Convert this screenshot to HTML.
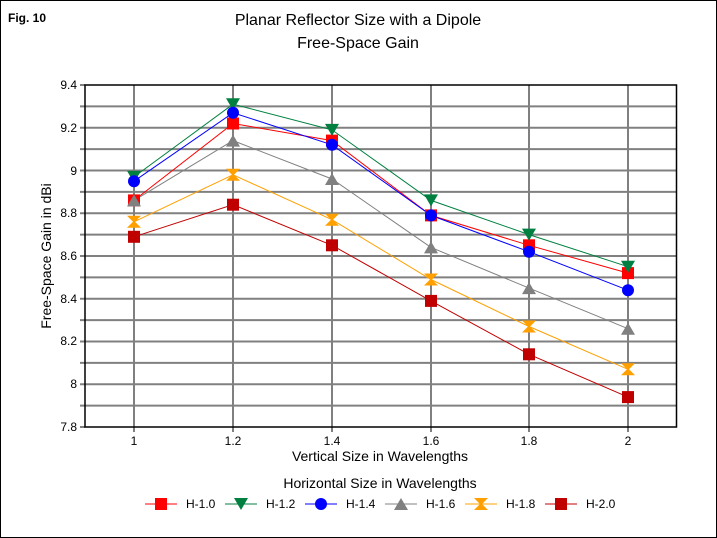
<!DOCTYPE html>
<html><head><meta charset="utf-8"><style>body{margin:0;background:#fff}svg{display:block}text{font-family:"Liberation Sans",Arial,sans-serif}</style></head><body>
<svg width="717" height="538" viewBox="0 0 717 538" xmlns="http://www.w3.org/2000/svg">
<defs>
<rect id="sq" x="-6" y="-6" width="12" height="12"/>
<path id="dn" d="M-7,-6 L7,-6 L0,6 Z"/>
<circle id="ci" r="6"/>
<path id="up" d="M0,-6 L7,6 L-7,6 Z"/>
<path id="hg" d="M-7,-6 L7,-6 L1,0 L7,6 L-7,6 L-1,0 Z"/>
</defs>
<rect x="0.5" y="0.5" width="716" height="537" fill="#fff" stroke="#000"/>
<text x="8" y="22" font-size="12" font-weight="bold">Fig. 10</text>
<text x="358" y="25" font-size="16" text-anchor="middle">Planar Reflector Size with a Dipole</text>
<text x="358" y="48" font-size="16" text-anchor="middle">Free-Space Gain</text>
<g stroke="#808080" stroke-width="2">
<line x1="80" y1="106.4" x2="676" y2="106.4"/><line x1="80" y1="127.75" x2="676" y2="127.75"/><line x1="80" y1="149.1" x2="676" y2="149.1"/><line x1="80" y1="170.5" x2="676" y2="170.5"/><line x1="80" y1="191.9" x2="676" y2="191.9"/><line x1="80" y1="213.25" x2="676" y2="213.25"/><line x1="80" y1="234.6" x2="676" y2="234.6"/><line x1="80" y1="256" x2="676" y2="256"/><line x1="80" y1="277.4" x2="676" y2="277.4"/><line x1="80" y1="298.75" x2="676" y2="298.75"/><line x1="80" y1="320.1" x2="676" y2="320.1"/><line x1="80" y1="341.5" x2="676" y2="341.5"/><line x1="80" y1="362.9" x2="676" y2="362.9"/><line x1="80" y1="384.25" x2="676" y2="384.25"/><line x1="80" y1="405.6" x2="676" y2="405.6"/>
<line x1="80" y1="85" x2="85" y2="85"/><line x1="80" y1="427" x2="85" y2="427"/>
<line x1="134" y1="85" x2="134" y2="432"/><line x1="233" y1="85" x2="233" y2="432"/><line x1="332" y1="85" x2="332" y2="432"/><line x1="431" y1="85" x2="431" y2="432"/><line x1="529" y1="85" x2="529" y2="432"/><line x1="628" y1="85" x2="628" y2="432"/>
</g>
<path d="M85,85 H676.5 V427 H85 Z" fill="none" stroke="#000" stroke-width="1.5"/>
<g font-size="12" text-anchor="end">
<text x="77" y="89">9.4</text><text x="77" y="132">9.2</text><text x="77" y="175">9</text><text x="77" y="217">8.8</text><text x="77" y="260">8.6</text><text x="77" y="303">8.4</text><text x="77" y="345">8.2</text><text x="77" y="388">8</text><text x="77" y="431">7.8</text>
</g>
<g font-size="12" text-anchor="middle">
<text x="134" y="445">1</text><text x="233" y="445">1.2</text><text x="332" y="445">1.4</text><text x="431" y="445">1.6</text><text x="529" y="445">1.8</text><text x="628" y="445">2</text>
</g>
<text x="380" y="461" font-size="14" text-anchor="middle">Vertical Size in Wavelengths</text>
<text transform="translate(51,256) rotate(-90)" font-size="14" text-anchor="middle">Free-Space Gain in dBi</text>
<g fill="none" stroke-width="1">
<polyline stroke="#f00" points="134,200.4 233,123.5 332,140.6 431,215.4 529,245.3 628,273.1"/>
<polyline stroke="#008040" points="134,176.9 233,104.2 332,129.9 431,200.4 529,234.6 628,266.7"/>
<polyline stroke="#00f" points="134,181.2 233,112.8 332,144.8 431,215.4 529,251.7 628,290.2"/>
<polyline stroke="#808080" points="134,200.4 233,140.6 332,179 431,247.4 529,288.1 628,328.7"/>
<polyline stroke="#ffa000" points="134,221.8 233,174.8 332,219.7 431,279.5 529,326.5 628,369.3"/>
<polyline stroke="#c00000" points="134,236.8 233,204.7 332,245.3 431,300.9 529,354.3 628,397.1"/>
</g>
<g fill="#f00"><use href="#sq" x="134" y="200.4"/><use href="#sq" x="233" y="123.5"/><use href="#sq" x="332" y="140.6"/><use href="#sq" x="431" y="215.4"/><use href="#sq" x="529" y="245.3"/><use href="#sq" x="628" y="273.1"/></g>
<g fill="#008040"><use href="#dn" x="134" y="176.9"/><use href="#dn" x="233" y="104.2"/><use href="#dn" x="332" y="129.9"/><use href="#dn" x="431" y="200.4"/><use href="#dn" x="529" y="234.6"/><use href="#dn" x="628" y="266.7"/></g>
<g fill="#00f"><use href="#ci" x="134" y="181.2"/><use href="#ci" x="233" y="112.8"/><use href="#ci" x="332" y="144.8"/><use href="#ci" x="431" y="215.4"/><use href="#ci" x="529" y="251.7"/><use href="#ci" x="628" y="290.2"/></g>
<g fill="#808080"><use href="#up" x="134" y="200.4"/><use href="#up" x="233" y="140.6"/><use href="#up" x="332" y="179"/><use href="#up" x="431" y="247.4"/><use href="#up" x="529" y="288.1"/><use href="#up" x="628" y="328.7"/></g>
<g fill="#ffa000"><use href="#hg" x="134" y="221.8"/><use href="#hg" x="233" y="174.8"/><use href="#hg" x="332" y="219.7"/><use href="#hg" x="431" y="279.5"/><use href="#hg" x="529" y="326.5"/><use href="#hg" x="628" y="369.3"/></g>
<g fill="#c00000"><use href="#sq" x="134" y="236.8"/><use href="#sq" x="233" y="204.7"/><use href="#sq" x="332" y="245.3"/><use href="#sq" x="431" y="300.9"/><use href="#sq" x="529" y="354.3"/><use href="#sq" x="628" y="397.1"/></g>
<text x="380" y="488" font-size="14" text-anchor="middle">Horizontal Size in Wavelengths</text>
<g font-size="12">
<line x1="145" y1="504" x2="177" y2="504" stroke="#f00"/><use href="#sq" x="161" y="504" fill="#f00"/><text x="186" y="508">H-1.0</text>
<line x1="225" y1="504" x2="257" y2="504" stroke="#008040"/><use href="#dn" x="241" y="504" fill="#008040"/><text x="266" y="508">H-1.2</text>
<line x1="305" y1="504" x2="337" y2="504" stroke="#00f"/><use href="#ci" x="321" y="504" fill="#00f"/><text x="346" y="508">H-1.4</text>
<line x1="385" y1="504" x2="417" y2="504" stroke="#808080"/><use href="#up" x="401" y="504" fill="#808080"/><text x="426" y="508">H-1.6</text>
<line x1="465" y1="504" x2="497" y2="504" stroke="#ffa000"/><use href="#hg" x="481" y="504" fill="#ffa000"/><text x="506" y="508">H-1.8</text>
<line x1="545" y1="504" x2="577" y2="504" stroke="#c00000"/><use href="#sq" x="561" y="504" fill="#c00000"/><text x="586" y="508">H-2.0</text>
</g>
</svg>
</body></html>
